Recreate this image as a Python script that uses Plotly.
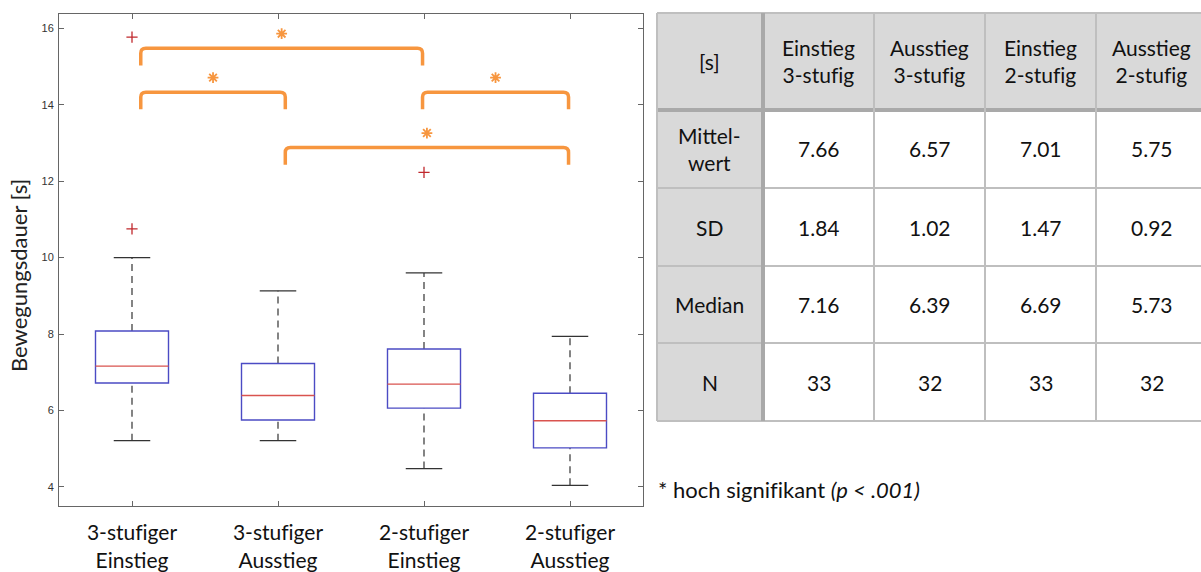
import plotly.graph_objects as go

# ---- box plot data (seconds) ----
groups = [1, 2, 3, 4]
group_labels = ["3-stuf\u200ciger<br>Einstieg", "3-stuf\u200ciger<br>Ausstieg",
                "2-stuf\u200ciger<br>Einstieg", "2-stuf\u200ciger<br>Ausstieg"]
q1 = [6.72, 5.75, 6.06, 5.02]
q3 = [8.08, 7.23, 7.61, 6.45]
whisker_low = [5.21, 5.21, 4.48, 4.04]
whisker_high = [10.00, 9.13, 9.60, 7.94]
outlier_group = [1, 1, 3]
outlier_value = [10.75, 15.77, 12.23]

# ---- significance brackets ----
bracket_from = [1.06, 1.06, 2.99, 2.05]
bracket_to = [2.99, 2.05, 3.99, 3.99]
bracket_level = [15.48, 14.33, 14.33, 12.88]

# ---- summary table ----
table_header = ["[s]", "Einstieg<br>3-stuf\u200cig", "Ausstieg<br>3-stuf\u200cig",
                "Einstieg<br>2-stuf\u200cig", "Ausstieg<br>2-stuf\u200cig"]
row_labels = ["Mittel-<br>wert", "SD", "Median", "N"]
mean_vals = [7.66, 6.57, 7.01, 5.75]
sd_vals = [1.84, 1.02, 1.47, 0.92]
median_vals = [7.16, 6.39, 6.69, 5.73]
n_vals = [33, 32, 33, 32]

W, H = 1201, 572
ORANGE = "#F7963F"
BOX_BLUE = "#4B4BC4"
MED_RED = "#D9534F"
OUT_RED = "#C0282D"
TXT_FONT = "Lato"


def fx(p):
    return p / W


def fy(p):
    return 1 - p / H


fig = go.Figure()
shapes = []
annotations = []

# boxes, medians, whiskers and caps in data coordinates
half_box = 0.25
half_cap = 0.125
for g, lo, a, m, b, hi in zip(groups, whisker_low, q1, median_vals, q3, whisker_high):
    shapes.append(dict(type="line", xref="x", yref="y", x0=g, x1=g, y0=b, y1=hi,
                       line=dict(color="#333333", width=1.2, dash="7px,5px")))
    shapes.append(dict(type="line", xref="x", yref="y", x0=g, x1=g, y0=lo, y1=a,
                       line=dict(color="#333333", width=1.2, dash="7px,5px")))
    for yv in (lo, hi):
        shapes.append(dict(type="line", xref="x", yref="y", x0=g - half_cap, x1=g + half_cap,
                           y0=yv, y1=yv, line=dict(color="#333333", width=1.2)))
    shapes.append(dict(type="rect", xref="x", yref="y", x0=g - half_box, x1=g + half_box,
                       y0=a, y1=b, line=dict(color=BOX_BLUE, width=1.4),
                       fillcolor="rgba(0,0,0,0)"))
    shapes.append(dict(type="line", xref="x", yref="y", x0=g - half_box, x1=g + half_box,
                       y0=m, y1=m, line=dict(color=MED_RED, width=1.4)))

# outliers
fig.add_trace(go.Scatter(
    x=outlier_group, y=outlier_value, mode="markers", showlegend=False, hoverinfo="skip",
    marker=dict(symbol="cross-thin-open", size=8, color=OUT_RED,
                line=dict(color=OUT_RED, width=1.3)),
))

# significance brackets with rounded corners
rx, ry, drop = 0.035, 0.13, 0.45
star_x, star_y = [], []
for x0, x1, yl in zip(bracket_from, bracket_to, bracket_level):
    path = (f"M {x0},{yl - drop} L {x0},{yl - ry} Q {x0},{yl} {x0 + rx},{yl} "
            f"L {x1 - rx},{yl} Q {x1},{yl} {x1},{yl - ry} L {x1},{yl - drop}")
    shapes.append(dict(type="path", xref="x", yref="y", path=path,
                       line=dict(color=ORANGE, width=3.5)))
    star_x.append((x0 + x1) / 2)
    star_y.append(yl + 0.38)

fig.add_trace(go.Scatter(
    x=star_x, y=star_y, mode="markers", showlegend=False, hoverinfo="skip",
    marker=dict(symbol="asterisk-open", size=9, color=ORANGE,
                line=dict(color=ORANGE, width=1.8)),
))

# y-axis title
annotations.append(dict(xref="paper", yref="paper", x=fx(18), y=fy(276),
                        text="Bewegungsdauer [s]", textangle=-90, showarrow=False,
                        xanchor="center", yanchor="middle",
                        font=dict(family=TXT_FONT, size=22, color="#222222")))

# ---- table drawn in page coordinates ----
col_edges = [657, 763, 874, 985, 1096, 1207]
row_edges = [13, 110, 188, 266, 343, 421]
HEAD_FILL = "#D9D9D9"
GRID = "#BFBFBF"
GRID_DARK = "#A9A9A9"

shapes.append(dict(type="rect", xref="paper", yref="paper", x0=fx(col_edges[0]), x1=fx(col_edges[-1]),
                   y0=fy(row_edges[1]), y1=fy(row_edges[0]), fillcolor=HEAD_FILL, line=dict(width=0),
                   layer="below"))
shapes.append(dict(type="rect", xref="paper", yref="paper", x0=fx(col_edges[0]), x1=fx(col_edges[1]),
                   y0=fy(row_edges[-1]), y1=fy(row_edges[1]), fillcolor=HEAD_FILL, line=dict(width=0),
                   layer="below"))
for i, r in enumerate(row_edges):
    w = 4 if i == 1 else 2
    c = GRID_DARK if i == 1 else GRID
    shapes.append(dict(type="line", xref="paper", yref="paper", x0=fx(col_edges[0]), x1=fx(col_edges[-1]),
                       y0=fy(r), y1=fy(r), line=dict(color=c, width=w)))
for j, c_ in enumerate(col_edges[:-1]):
    w = 4 if j == 1 else 2
    c = GRID_DARK if j == 1 else GRID
    shapes.append(dict(type="line", xref="paper", yref="paper", x0=fx(c_), x1=fx(c_),
                       y0=fy(row_edges[-1]), y1=fy(row_edges[0]), line=dict(color=c, width=w)))

col_mid = [(a + b) / 2 for a, b in zip(col_edges[:-1], col_edges[1:])]
row_mid = [(a + b) / 2 for a, b in zip(row_edges[:-1], row_edges[1:])]
cell_font = dict(family=TXT_FONT, size=21, color="#111111")


def cell(text, ci, ri):
    annotations.append(dict(xref="paper", yref="paper", x=fx(col_mid[ci]), y=fy(row_mid[ri]),
                            text=text, showarrow=False, xanchor="center", yanchor="middle",
                            font=cell_font))


for ci, h in enumerate(table_header):
    cell(h, ci, 0)
body = [
    [f"{v:.2f}" for v in mean_vals],
    [f"{v:.2f}" for v in sd_vals],
    [f"{v:.2f}" for v in median_vals],
    [str(v) for v in n_vals],
]
for ri, (lab, vals) in enumerate(zip(row_labels, body), start=1):
    cell(lab, 0, ri)
    for ci, v in enumerate(vals, start=1):
        cell(v, ci, ri)

# footnote
annotations.append(dict(xref="paper", yref="paper", x=fx(656), y=fy(489),
                        text="* hoch signif\u200cikant <i>(p &lt; .001)</i>", showarrow=False,
                        xanchor="left", yanchor="middle",
                        font=dict(family=TXT_FONT, size=22, color="#111111")))

axis_common = dict(showline=True, linecolor="#666666", linewidth=1, mirror="ticks",
                   ticks="inside", ticklen=5, tickcolor="#666666", showgrid=False,
                   zeroline=False)

fig.update_layout(
    width=W, height=H,
    margin=dict(l=0, r=0, t=0, b=0),
    paper_bgcolor="white", plot_bgcolor="white",
    showlegend=False,
    xaxis=dict(domain=[fx(59), fx(643)], range=[0.5, 4.5], tickvals=groups,
               ticktext=group_labels, ticklabelstandoff=8,
               tickfont=dict(family=TXT_FONT, size=21, color="#111111"), **axis_common),
    yaxis=dict(domain=[fy(506), fy(14)], range=[3.5, 16.375], tickvals=[4, 6, 8, 10, 12, 14, 16],
               tickfont=dict(family="Liberation Sans", size=11, color="#333333"),
               ticklabelstandoff=2, **axis_common),
    shapes=shapes,
    annotations=annotations,
)

fig.write_html("out.html")
